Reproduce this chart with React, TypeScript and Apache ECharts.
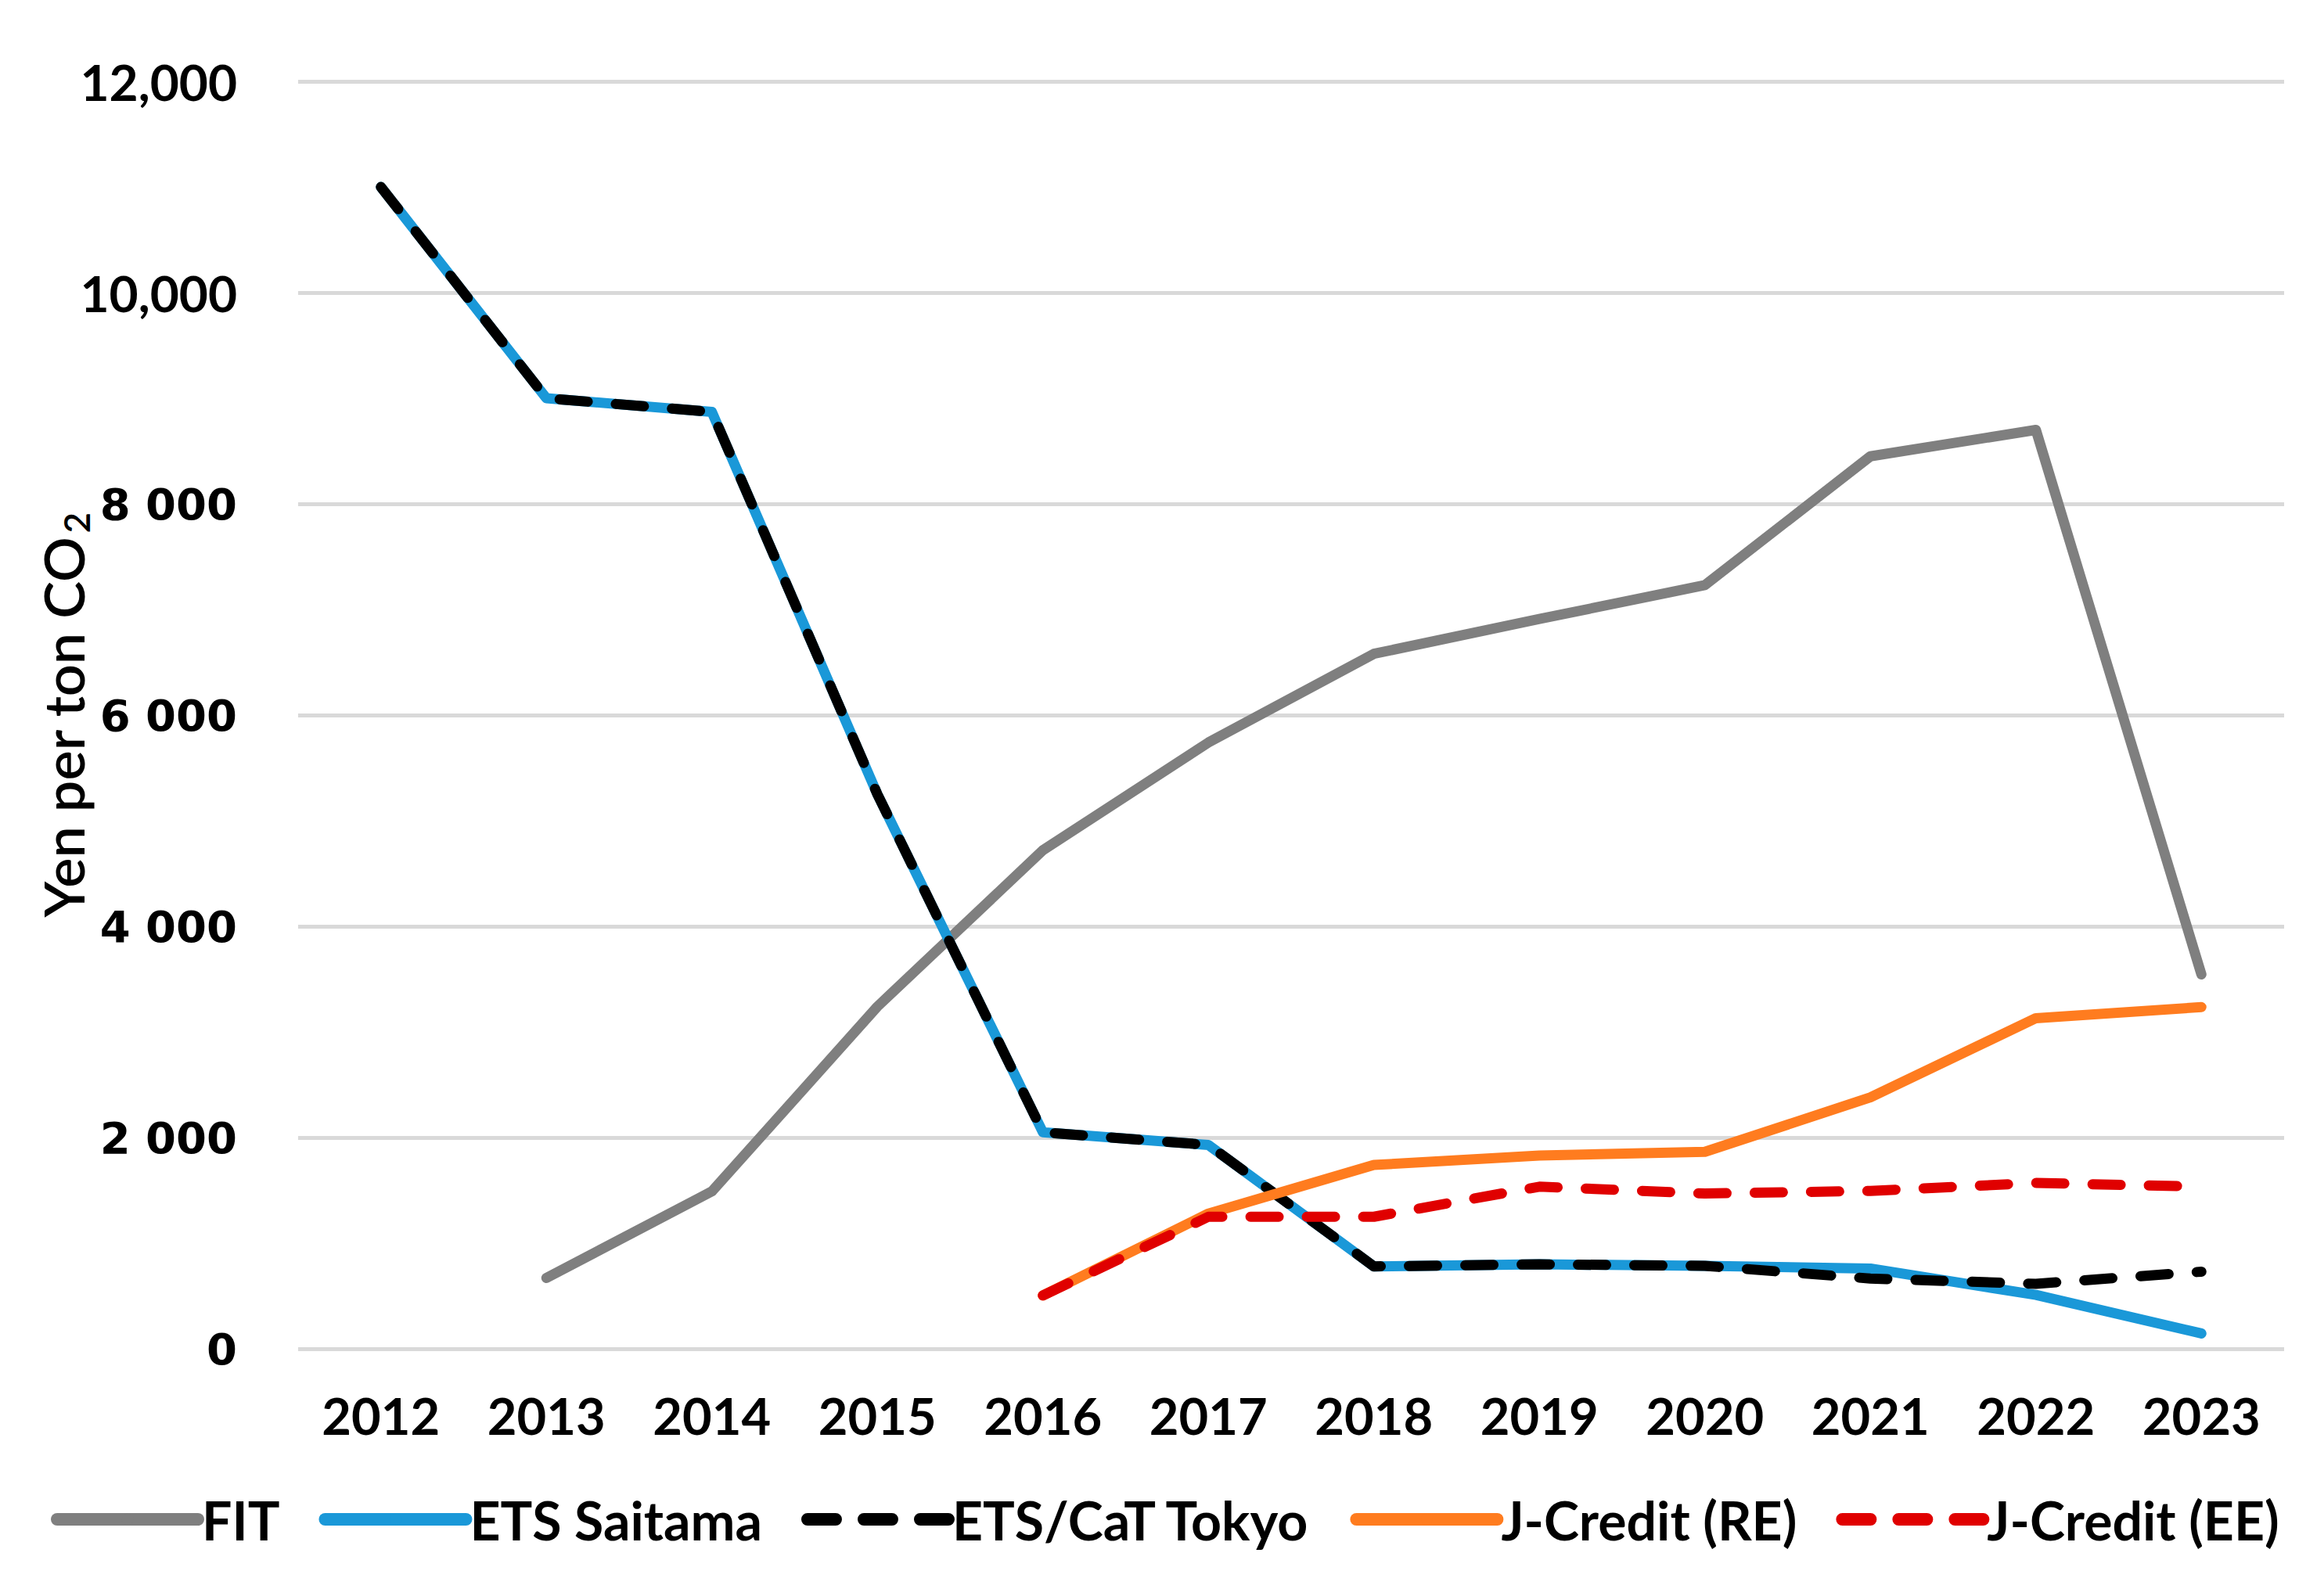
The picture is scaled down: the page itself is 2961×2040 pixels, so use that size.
import React, { useEffect, useRef } from "react";
import * as echarts from "echarts";

const years = ["2012", "2013", "2014", "2015", "2016", "2017", "2018", "2019", "2020", "2021", "2022", "2023"];
const fit = [null, 670, 1490, 3240, 4720, 5740, 6580, 6910, 7230, 8450, 8700, 3545];
const etsSaitama = [11000, 9000, 8870, 5250, 2050, 1930, 780, 800, 785, 760, 510, 145];
const etsTokyo = [11000, 9000, 8870, 5250, 2050, 1930, 780, 800, 785, 665, 615, 730];
const jCreditRE = [null, null, null, null, 505, 1280, 1740, 1830, 1865, 2380, 3130, 3235];
const jCreditEE = [null, null, null, null, 505, 1250, 1250, 1535, 1470, 1495, 1570, 1535];
const seriesNames = ["FIT", "ETS Saitama", "ETS/CaT Tokyo", "J-Credit (RE)", "J-Credit (EE)"];
const yTicks = { min: 0, max: 12000, interval: 2000 };
const yTitle = "{a|Yen per ton CO}{b|2}";

export default function App() {
  const ref = useRef<HTMLDivElement>(null);
  useEffect(() => {
    document.body.style.margin = "0";
    const chart = echarts.init(ref.current!, null, { renderer: "svg" });
    const dash = [36, 36];
    const common = { type: "line", symbol: "none", connectNulls: false, z: 2 };
    chart.setOption({
      animation: false,
      backgroundColor: "#ffffff",
      grid: { left: 381, top: 104, width: 2538, height: 1620, containLabel: false },
      graphic: [
        {
          type: "text",
          x: 80,
          y: 914,
          rotation: Math.PI / 2,
          style: {
            text: yTitle,
            align: "center",
            verticalAlign: "middle",
            rich: {
              a: { fontFamily: "Lato", fontWeight: 600, fontSize: 72, fill: "#000", lineHeight: 80 },
              b: { fontFamily: "Lato", fontWeight: 600, fontSize: 46, fill: "#000", lineHeight: 80, verticalAlign: "bottom", padding: [0, 0, 0, 4] },
            },
          },
        },
      ],
      xAxis: {
        type: "category",
        data: years,
        boundaryGap: true,
        axisLine: { show: false },
        axisTick: { show: false },
        axisLabel: {
          margin: 52,
          color: "#000",
          fontFamily: "Lato",
          fontWeight: "bold",
          fontSize: 65,
        },
      },
      yAxis: {
        type: "value",
        min: yTicks.min,
        max: yTicks.max,
        interval: yTicks.interval,
        axisLine: { show: false },
        axisTick: { show: false },
        splitLine: { lineStyle: { color: "#d9d9d9", width: 5 } },
        axisLabel: {
          margin: 78,
          formatter: (v: number) => {
            if (v >= 10000) {
              return "{a|" + v.toLocaleString("en-US") + "}";
            }
            const s = v === 0 ? "0" : Math.floor(v / 1000) + " " + String(v % 1000).padStart(3, "0");
            return "{b|" + s + "}";
          },
          rich: {
            a: { fontFamily: "Lato", fontWeight: "bold", fontSize: 64, color: "#000" },
            b: { fontFamily: "DejaVu Sans", fontWeight: "bold", fontSize: 56, color: "#000" },
          },
        },
      },
      legend: {
        data: seriesNames,
        left: 60,
        top: 1897,
        itemWidth: 180,
        itemHeight: 19,
        itemGap: 50,
        textStyle: { fontFamily: "Lato", fontWeight: "bold", fontSize: 68, color: "#000", lineHeight: 80 },
        lineStyle: { width: 16 },
      },
      series: [
        {
          ...common,
          name: seriesNames[0],
          data: fit,
          color: "#7f7f7f",
          lineStyle: { color: "#7f7f7f", width: 13, cap: "round", join: "round" },
        },
        {
          ...common,
          name: seriesNames[1],
          data: etsSaitama,
          color: "#1a98d8",
          lineStyle: { color: "#1a98d8", width: 13, cap: "round", join: "round" },
        },
        {
          ...common,
          name: seriesNames[2],
          data: etsTokyo,
          color: "#000000",
          lineStyle: { color: "#000000", width: 13, type: dash, cap: "round", join: "round" },
        },
        {
          ...common,
          name: seriesNames[3],
          data: jCreditRE,
          color: "#ff7c1f",
          lineStyle: { color: "#ff7c1f", width: 13, cap: "round", join: "round" },
        },
        {
          ...common,
          name: seriesNames[4],
          data: jCreditEE,
          color: "#e00000",
          lineStyle: { color: "#e00000", width: 13, type: dash, cap: "round", join: "round" },
        },
      ],
    });
    return () => chart.dispose();
  }, []);
  return <div ref={ref} style={{ position: "absolute", left: 0, top: 0, width: 2961, height: 2040 }} />;
}
